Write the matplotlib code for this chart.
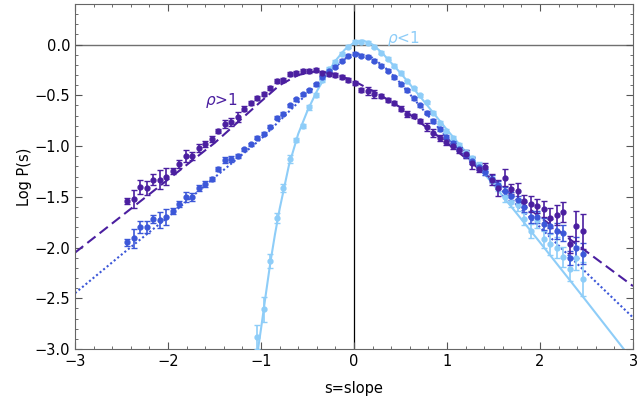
import matplotlib.pyplot as plt
from matplotlib.ticker import MultipleLocator

# slope bins (shared by all three series)
slopes = [-2.44, -2.37, -2.30, -2.23, -2.16, -2.09, -2.02, -1.95, -1.88, -1.81,
          -1.74, -1.67, -1.60, -1.53, -1.46, -1.39, -1.32, -1.25, -1.18, -1.11,
          -1.04, -0.97, -0.90, -0.83, -0.76, -0.69, -0.62, -0.55, -0.48, -0.41,
          -0.34, -0.27, -0.20, -0.13, -0.06, 0.01, 0.08, 0.15, 0.22, 0.29,
          0.36, 0.43, 0.50, 0.57, 0.64, 0.71, 0.78, 0.85, 0.92, 0.99,
          1.06, 1.13, 1.20, 1.27, 1.34, 1.41, 1.48, 1.55, 1.62, 1.69,
          1.76, 1.83, 1.90, 1.97, 2.04, 2.11, 2.18, 2.25, 2.32, 2.39, 2.46]

# rho > 1 (dark purple)
logp_hi = [-1.54, -1.52, -1.40, -1.41, -1.33, -1.33, -1.30, -1.25, -1.18, -1.10,
           -1.10, -1.02, -0.98, -0.93, -0.85, -0.78, -0.76, -0.71, -0.63, -0.58,
           -0.53, -0.49, -0.43, -0.36, -0.35, -0.29, -0.28, -0.26, -0.26, -0.25,
           -0.28, -0.29, -0.30, -0.32, -0.35, -0.38, -0.45, -0.46, -0.49, -0.51,
           -0.55, -0.58, -0.63, -0.68, -0.70, -0.75, -0.81, -0.87, -0.92, -0.96,
           -1.00, -1.04, -1.08, -1.17, -1.23, -1.21, -1.33, -1.41, -1.31, -1.42,
           -1.44, -1.54, -1.57, -1.59, -1.62, -1.71, -1.68, -1.65, -1.97, -1.79, -1.84]
err_hi = [0.03, 0.09, 0.07, 0.07, 0.05, 0.09, 0.08, 0.03, 0.04, 0.06,
          0.04, 0.04, 0.03, 0.03, 0.02, 0.04, 0.04, 0.05, 0.02, 0.02,
          0.02, 0.02, 0.02, 0.02, 0.02, 0.02, 0.02, 0.02, 0.02, 0.02,
          0.02, 0.02, 0.02, 0.02, 0.02, 0.02, 0.02, 0.04, 0.04, 0.02,
          0.02, 0.02, 0.02, 0.03, 0.02, 0.02, 0.04, 0.04, 0.03, 0.03,
          0.03, 0.03, 0.04, 0.06, 0.03, 0.04, 0.05, 0.08, 0.08, 0.05,
          0.08, 0.06, 0.08, 0.07, 0.08, 0.10, 0.10, 0.10, 0.08, 0.15, 0.17]

# intermediate (blue)
logp_mid = [-1.95, -1.91, -1.80, -1.80, -1.72, -1.73, -1.70, -1.64, -1.57, -1.50,
            -1.50, -1.41, -1.37, -1.32, -1.23, -1.14, -1.13, -1.10, -1.03, -0.98,
            -0.92, -0.88, -0.81, -0.72, -0.68, -0.60, -0.54, -0.49, -0.45, -0.39,
            -0.32, -0.26, -0.22, -0.16, -0.11, -0.09, -0.11, -0.12, -0.16, -0.21,
            -0.26, -0.32, -0.39, -0.45, -0.53, -0.60, -0.67, -0.75, -0.83, -0.91,
            -0.97, -1.03, -1.09, -1.15, -1.21, -1.26, -1.32, -1.38, -1.44, -1.49,
            -1.53, -1.60, -1.70, -1.70, -1.77, -1.79, -1.84, -1.86, -2.10, -2.00, -2.06]
err_mid = [0.03, 0.09, 0.06, 0.06, 0.04, 0.08, 0.08, 0.03, 0.03, 0.05,
           0.04, 0.03, 0.03, 0.02, 0.02, 0.03, 0.03, 0.02, 0.015, 0.015,
           0.015, 0.015, 0.015, 0.015, 0.015, 0.015, 0.015, 0.015, 0.015, 0.015,
           0.015, 0.015, 0.015, 0.015, 0.015, 0.015, 0.015, 0.015, 0.015, 0.015,
           0.015, 0.015, 0.015, 0.015, 0.015, 0.015, 0.015, 0.02, 0.02, 0.02,
           0.02, 0.02, 0.03, 0.03, 0.03, 0.03, 0.03, 0.04, 0.04, 0.04,
           0.04, 0.05, 0.06, 0.06, 0.06, 0.07, 0.08, 0.08, 0.07, 0.10, 0.10]

# rho < 1 (light blue), starts at slope -1.04
slopes_lo = slopes[20:]
logp_lo = [-2.88, -2.61, -2.13, -1.71, -1.41, -1.13, -0.94, -0.80, -0.62, -0.50,
           -0.35, -0.24, -0.17, -0.09, -0.02, 0.03, 0.03, 0.02, -0.02, -0.08,
           -0.14, -0.21, -0.28, -0.36, -0.43, -0.50, -0.57, -0.67, -0.77, -0.85,
           -0.92, -0.99, -1.06, -1.12, -1.19, -1.26, -1.33, -1.40, -1.50, -1.55,
           -1.58, -1.72, -1.84, -1.73, -1.92, -1.97, -2.00, -2.09, -2.21, -2.10, -2.31]
err_lo = [0.12, 0.12, 0.07, 0.05, 0.04, 0.04, 0.02, 0.02, 0.02, 0.02,
          0.015, 0.015, 0.015, 0.015, 0.015, 0.015, 0.015, 0.015, 0.015, 0.015,
          0.015, 0.015, 0.015, 0.015, 0.015, 0.015, 0.015, 0.015, 0.015, 0.02,
          0.02, 0.02, 0.02, 0.02, 0.03, 0.03, 0.03, 0.04, 0.05, 0.05,
          0.06, 0.06, 0.07, 0.08, 0.08, 0.10, 0.10, 0.10, 0.12, 0.12, 0.17]

# fitted curves
fit_hi_x = [-3.0, -2.5, -2.0, -1.5, -1.0, -0.8, -0.6, -0.4, -0.2, 0.0, 0.25, 0.5, 1.0, 1.5, 2.0, 2.5, 3.0]
fit_hi_y = [-2.05, -1.69, -1.33, -0.97, -0.56, -0.40, -0.30, -0.26, -0.29, -0.36, -0.48, -0.62, -0.97, -1.34, -1.70, -2.04, -2.38]
fit_mid_x = [-3.0, -2.5, -2.0, -1.5, -1.0, -0.5, -0.3, -0.1, 0.05, 0.2, 0.35, 0.5, 1.0, 1.5, 2.0, 2.5, 3.0]
fit_mid_y = [-2.45, -2.07, -1.70, -1.31, -0.93, -0.48, -0.30, -0.14, -0.09, -0.13, -0.24, -0.38, -0.92, -1.36, -1.80, -2.25, -2.69]
fit_lo_x = [-1.04, -1.0, -0.95, -0.9, -0.85, -0.8, -0.7, -0.6, -0.5, -0.4, -0.3, -0.2, -0.1, 0.0, 0.1, 0.2, 0.3, 0.4, 0.5, 0.7, 1.0, 1.5, 2.0, 2.5, 2.9]
fit_lo_y = [-3.05, -2.80, -2.47, -2.15, -1.87, -1.62, -1.19, -0.88, -0.65, -0.46, -0.30, -0.16, -0.05, 0.02, 0.04, 0.00, -0.08, -0.18, -0.28, -0.50, -0.84, -1.38, -1.95, -2.53, -3.0]

c_hi = '#4b1fa0'
c_mid = '#3c57d8'
c_lo = '#8ecdf8'

fig = plt.figure(figsize=(6.38, 4.08), dpi=100)
ax = fig.add_axes([0.1176, 0.1446, 0.8746, 0.8456])

ax.axhline(0, color='#707070', lw=1.0, zorder=1)
ax.axvline(0, color='black', lw=0.9, zorder=1)

ax.plot(fit_lo_x, fit_lo_y, color=c_lo, lw=1.5, zorder=2)
ax.plot(fit_mid_x, fit_mid_y, color=c_mid, lw=1.5, ls=(0, (1, 1.2)), zorder=2)
ax.plot(fit_hi_x, fit_hi_y, color=c_hi, lw=1.5, ls=(0, (5, 2.5)), zorder=2)

for xs, ys, es, c in [(slopes_lo, logp_lo, err_lo, c_lo),
                      (slopes, logp_mid, err_mid, c_mid),
                      (slopes, logp_hi, err_hi, c_hi)]:
    ax.errorbar(xs, ys, yerr=es, fmt='o', color=c, ms=3.5, elinewidth=1.2,
                capsize=2.2, capthick=1.0, zorder=3)

ax.text(-1.6, -0.6, r'$\rho$>1', color=c_hi, fontsize=11)
ax.text(0.35, 0.02, r'$\rho$<1', color=c_lo, fontsize=11)

ax.set_xlim(-3, 3)
ax.set_ylim(-3, 0.4)
ax.xaxis.set_major_locator(MultipleLocator(1))
ax.xaxis.set_minor_locator(MultipleLocator(0.2))
ax.yaxis.set_major_locator(MultipleLocator(0.5))
ax.yaxis.set_minor_locator(MultipleLocator(0.1))
ax.set_yticks([-3, -2.5, -2, -1.5, -1, -0.5, 0])
ax.set_yticklabels(['\u22123.0', '\u22122.5', '\u22122.0', '\u22121.5', '\u22121.0', '\u22120.5', '0.0'])
ax.tick_params(which='both', direction='in', top=True, right=True, color='#555555', labelsize=10.5)
ax.tick_params(which='major', length=5, width=0.8)
ax.tick_params(which='minor', length=2.5, width=0.6)
for s in ax.spines.values():
    s.set_color('#666666')

ax.set_xlabel('s=slope', fontsize=10.5, labelpad=9)
ax.set_ylabel('Log P(s)', fontsize=10.5, labelpad=2)

fig.savefig('out.png', dpi=100)
